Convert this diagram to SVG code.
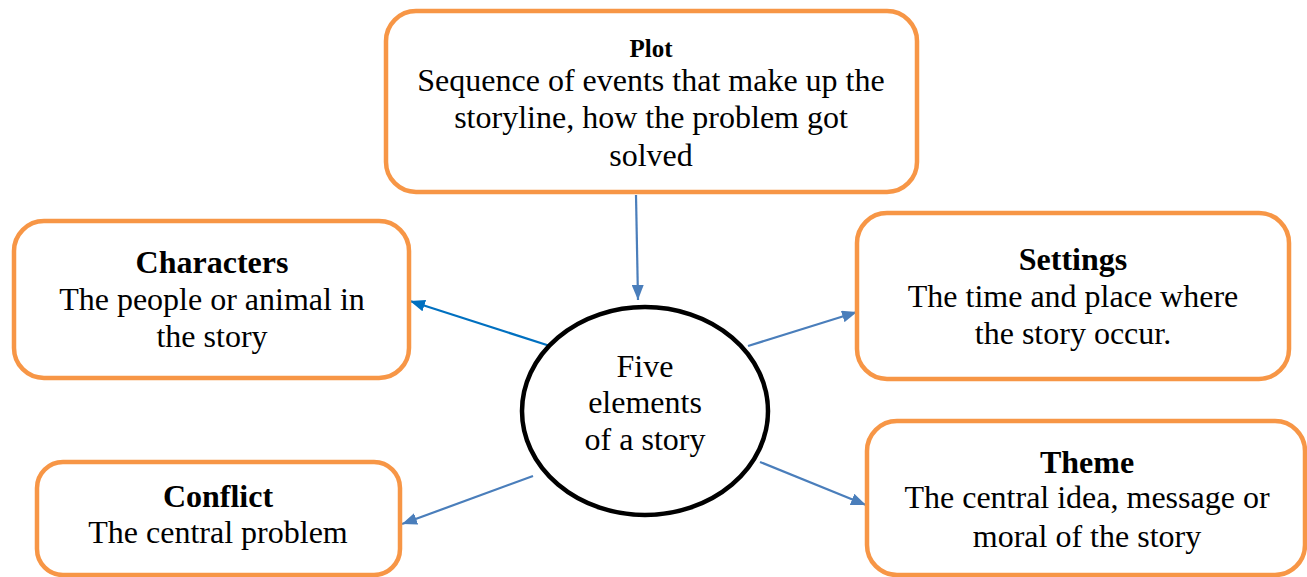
<svg xmlns="http://www.w3.org/2000/svg" width="1307" height="577" viewBox="0 0 1307 577">
<defs>
<style>
.box{fill:#fff;stroke:#F79646;stroke-width:4.5}
.t{font-size:32px;fill:#000;text-anchor:middle}
.b{font-weight:bold}
.c{stroke:#4A7EBB;stroke-width:2.2;fill:none}
.c2{stroke:#0070C0;stroke-width:2.2;fill:none}
</style>
<marker id="ah" viewBox="0 0 15 12" refX="15" refY="6" markerWidth="15" markerHeight="12" markerUnits="userSpaceOnUse" orient="auto">
<path d="M0,0 L15,6 L0,12 z" fill="#4A7EBB"/>
</marker>
<marker id="ah2" viewBox="0 0 15 12" refX="15" refY="6" markerWidth="15" markerHeight="12" markerUnits="userSpaceOnUse" orient="auto">
<path d="M0,0 L15,6 L0,12 z" fill="#0070C0"/>
</marker>
</defs>
<rect width="1307" height="577" fill="#fff"/>
<g id="connectors">
<line class="c" x1="636" y1="195" x2="638" y2="300" marker-end="url(#ah)"/>
<line class="c2" x1="550" y1="346" x2="410" y2="301" marker-end="url(#ah2)"/>
<line class="c" x1="748" y1="346" x2="857" y2="312" marker-end="url(#ah)"/>
<line class="c" x1="533" y1="476" x2="402" y2="524" marker-end="url(#ah)"/>
<line class="c" x1="760" y1="462" x2="866" y2="505" marker-end="url(#ah)"/>
</g>
<g id="plot">
<rect class="box" x="386" y="11" width="531" height="181" rx="30"/>
<text class="t b" font-family="Liberation Serif" x="651" y="57" style="font-size:25px">Plot</text>
<text class="t" font-family="Liberation Serif" x="651" y="91">Sequence of events that make up the</text>
<text class="t" font-family="Liberation Serif" x="651" y="128">storyline, how the problem got</text>
<text class="t" font-family="Liberation Serif" x="651" y="166">solved</text>
</g>
<g id="characters">
<rect class="box" x="14" y="221" width="395" height="157" rx="30"/>
<text class="t b" font-family="Liberation Serif" x="212" y="273">Characters</text>
<text class="t" font-family="Liberation Serif" x="212" y="310">The people or animal in</text>
<text class="t" font-family="Liberation Serif" x="212" y="347">the story</text>
</g>
<g id="settings">
<rect class="box" x="857" y="213" width="432" height="166" rx="30"/>
<text class="t b" font-family="Liberation Serif" x="1073" y="270">Settings</text>
<text class="t" font-family="Liberation Serif" x="1073" y="307">The time and place where</text>
<text class="t" font-family="Liberation Serif" x="1073" y="344">the story occur.</text>
</g>
<g id="center">
<ellipse cx="645" cy="411" rx="123" ry="104" fill="#fff" stroke="#000" stroke-width="4.5"/>
<text class="t" font-family="Liberation Serif" x="645" y="377">Five</text>
<text class="t" font-family="Liberation Serif" x="645" y="413">elements</text>
<text class="t" font-family="Liberation Serif" x="645" y="450">of a story</text>
</g>
<g id="conflict">
<rect class="box" x="37" y="462" width="363" height="113" rx="26"/>
<text class="t b" font-family="Liberation Serif" x="218" y="507">Conflict</text>
<text class="t" font-family="Liberation Serif" x="218" y="543">The central problem</text>
</g>
<g id="theme">
<rect class="box" x="867" y="421" width="438" height="154" rx="30"/>
<text class="t b" font-family="Liberation Serif" x="1087" y="473">Theme</text>
<text class="t" font-family="Liberation Serif" x="1087" y="508">The central idea, message or</text>
<text class="t" font-family="Liberation Serif" x="1087" y="547">moral of the story</text>
</g>
</svg>
